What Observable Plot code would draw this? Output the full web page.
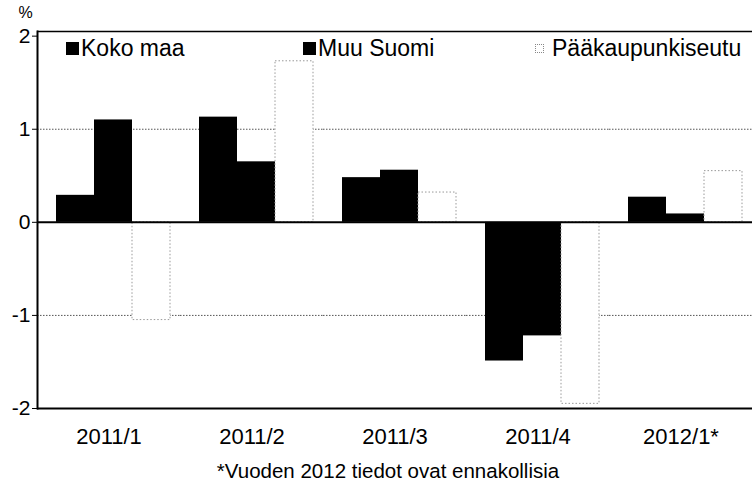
<!DOCTYPE html>
<html><head><meta charset="utf-8">
<script src="https://cdn.jsdelivr.net/npm/d3@7"></script>
<script src="https://cdn.jsdelivr.net/npm/@observablehq/plot@0.6"></script>
<style>
body{margin:0;background:#fff;font-family:"Liberation Sans",Arial,sans-serif;color:#000;}
#wrap{position:relative;width:752px;height:488px;overflow:hidden;}
.item{position:absolute;top:35px;font-size:23px;line-height:26px;display:flex;align-items:center;white-space:nowrap;}
.sw{width:13px;height:13px;margin-right:2px;box-sizing:border-box;}
#caption{position:absolute;top:460px;left:24px;width:728px;text-align:center;font-size:20.5px;line-height:22px;white-space:nowrap;}
</style></head><body><div id="wrap"></div>
<script>
const quarters = ["2011/1", "2011/2", "2011/3", "2011/4", "2012/1*"];
const series = ["Koko maa", "Muu Suomi", "Pääkaupunkiseutu"];
const kokoMaa = [0.29, 1.13, 0.48, -1.49, 0.27];
const muuSuomi = [1.10, 0.65, 0.56, -1.22, 0.09];
const paakaupunkiseutu = [-1.05, 1.73, 0.32, -1.95, 0.55];
const yTicks = [-2, -1, 0, 1, 2];
const gridValues = [-1, 1];
const unitLabel = "%";
const captionText = "*Vuoden 2012 tiedot ovat ennakollisia";

const values = [kokoMaa, muuSuomi, paakaupunkiseutu];
const data = [];
series.forEach((s, si) => quarters.forEach((q, qi) => data.push({q, s, v: values[si][qi]})));
const solid = data.filter(d => d.s !== series[2]);
const hollow = data.filter(d => d.s === series[2]);

const chart = Plot.plot({
  width: 752,
  height: 448,
  marginLeft: 36,
  marginRight: 0,
  marginTop: 31,
  marginBottom: 40,
  style: {fontFamily: '"Liberation Sans", Arial, sans-serif', background: "#fff", color: "#000"},
  fx: {domain: quarters, paddingInner: 0, paddingOuter: 0, label: null},
  x: {domain: series, axis: null, paddingInner: 0, paddingOuter: 0.373, align: 0.667},
  y: {domain: [-2, 2.05], label: null},
  marks: [
    Plot.ruleY(gridValues, {stroke: "#555", strokeWidth: 1, strokeDasharray: "1.5,1.5"}),
    Plot.ruleY([2.05], {stroke: "#000", strokeWidth: 1.5}),
    Plot.barY(solid, {fx: "q", x: "s", y: "v", fill: "#000", inset: 0}),
    Plot.barY(hollow, {fx: "q", x: "s", y: "v", fill: "#fff", stroke: "#999", strokeWidth: 1, strokeDasharray: "1.5,2", inset: 0}),
    Plot.ruleY([0], {stroke: "#000", strokeWidth: 2}),
    Plot.ruleY([-2], {stroke: "#000", strokeWidth: 2}),
    Plot.frame({anchor: "left", facetAnchor: "left", stroke: "#000", strokeWidth: 2}),
    Plot.axisY({ticks: yTicks, tickSize: 5, tickPadding: 2, fontSize: 21, label: null, tickFormat: d => d}),
    Plot.axisFx({anchor: "bottom", tickSize: 0, tickPadding: 20, fontSize: 22, label: null}),
    Plot.text([unitLabel], {text: d => d, frameAnchor: "top-left", facetAnchor: "left", dx: -19, dy: -25, fontSize: 16})
  ]
});

const wrap = document.getElementById("wrap");
wrap.appendChild(chart);

const legendLeft = [66, 303, 535];
const swatchStyle = ["background:#000", "background:#000", "background:#fff;border:1px dotted #888;width:9px;height:9px;margin-right:8px"];
series.forEach((s, i) => {
  const it = document.createElement("div");
  it.className = "item";
  it.style.left = legendLeft[i] + "px";
  const sw = document.createElement("span");
  sw.className = "sw";
  sw.setAttribute("style", swatchStyle[i]);
  const tx = document.createElement("span");
  tx.textContent = s;
  it.appendChild(sw); it.appendChild(tx);
  wrap.appendChild(it);
});
const cap = document.createElement("div");
cap.id = "caption";
cap.textContent = captionText;
wrap.appendChild(cap);
</script></body></html>
